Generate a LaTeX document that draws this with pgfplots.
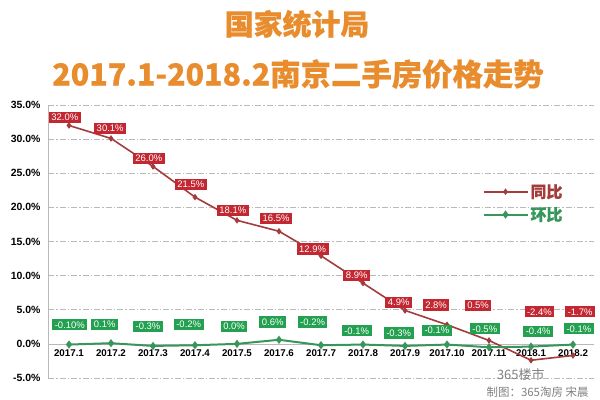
\documentclass[border=0pt]{standalone}
\usepackage{pgfplots}
\pgfplotsset{compat=1.18}
\usepackage{pgfplotstable}
\usepackage{fontspec}
\setmainfont{Liberation Sans}
\newfontfamily\cjk{Noto Sans CJK SC}[BoldFeatures={FakeBold=0.6}]
\definecolor{tbline}{RGB}{165,60,60}
\definecolor{tbfill}{RGB}{195,40,50}
\definecolor{hbline}{RGB}{55,150,90}
\definecolor{hbfill}{RGB}{35,160,80}
\definecolor{ttl}{RGB}{232,140,45}
\definecolor{gridc}{RGB}{185,185,185}
\pgfplotstableread{
x tb hb tbx tby hbx hby tbl hbl
0 32.0 -0.10 -0.10 33.2 0.02 2.8 32.0 -0.10
1 30.1 0.1 -0.02 31.6 -0.15 2.9 30.1 0.1
2 26.0 -0.3 -0.10 27.2 -0.12 2.6 26.0 -0.3
3 21.5 -0.2 -0.10 23.4 -0.15 2.9 21.5 -0.2
4 18.1 0.0 -0.10 19.6 -0.07 2.6 18.1 0.0
5 16.5 0.6 -0.07 18.4 -0.15 3.2 16.5 0.6
6 12.9 -0.2 -0.20 13.9 -0.20 3.2 12.9 -0.2
7 8.9 -0.1 -0.15 10.0 -0.15 1.9 8.9 -0.1
8 4.9 -0.3 -0.15 6.1 -0.15 1.6 4.9 -0.3
9 2.8 -0.1 -0.26 5.7 -0.24 2.0 2.8 -0.1
10 0.5 -0.5 -0.26 5.6 -0.10 2.2 0.5 -0.5
11 -2.4 -0.4 0.20 4.7 0.17 1.8 -2.4 -0.4
12 -1.7 -0.1 0.17 4.7 0.14 2.2 -1.7 -0.1
}\data
\begin{document}
\begin{tikzpicture}
\path[use as bounding box] (0,0) rectangle (600bp,400bp);
\node[font=\cjk\bfseries\fontsize{29}{32}\selectfont, text=ttl] at (297bp,376bp) {国家统计局};
\node[font=\cjk\bfseries\fontsize{30.5}{34}\selectfont, text=ttl] at (298bp,326bp) {2017.1-2018.2南京二手房价格走势};
\begin{axis}[
  at={(48bp,22bp)}, anchor=south west,
  scale only axis, width=546bp, height=273bp,
  xmin=-0.5, xmax=12.5, ymin=-5, ymax=35,
  axis x line=middle, axis y line=left,
  axis line style={gridc, -},
  x axis line style={gridc},
  ytick={-5,0,...,35},
  xtick={0,...,12},
  xticklabels={2017.1,2017.2,2017.3,2017.4,2017.5,2017.6,2017.7,2017.8,2017.9,2017.10,2017.11,2018.1,2018.2},
  major tick length=0pt,
  /pgf/number format/assume math mode=true,
  yticklabel={\pgfmathprintnumber[fixed,fixed zerofill,precision=1]{\tick}\%},
  yticklabel style={font=\bfseries\fontsize{10.5}{11}\selectfont, xshift=-4bp},
  xticklabel style={font=\bfseries\fontsize{9.8}{11}\selectfont, yshift=-2bp},
  ymajorgrids, grid style={gridc, dash pattern=on 6bp off 2bp on 1.5bp off 2bp, line width=0.6bp},
  clip=false,
  legend style={at={(0.79,0.725)}, anchor=north west, draw=none, fill=none,
    font=\cjk\bfseries\fontsize{16}{18}\selectfont, row sep=4bp},
  legend cell align=left,
  legend image code/.code={\draw[mark repeat=2,mark phase=2,#1] plot coordinates {(0bp,0bp) (22bp,0bp) (44bp,0bp)};},
]
\addplot[tbline, line width=1.6bp, mark=diamond*, mark size=2bp] table[x=x,y=tb] {\data};
\addlegendentry{\textcolor{tbline}{同比}}
\addplot[hbline, line width=2bp, mark=diamond*, mark size=2.5bp] table[x=x,y=hb] {\data};
\addlegendentry{\textcolor{hbline}{环比}}
\addplot[only marks, mark=*, mark size=0pt, mark options={draw=none,fill=none},
  point meta=explicit symbolic, nodes near coords={\pgfplotspointmeta\%},
  every node near coord/.append style={anchor=center, fill=tbfill, text=white, inner xsep=2.5bp, inner ysep=2.2bp,
  font=\fontsize{9.5}{10}\selectfont}, forget plot]
  table[x expr=\thisrow{x}+\thisrow{tbx},y=tby,meta=tbl] {\data};
\addplot[only marks, mark=*, mark size=0pt, mark options={draw=none,fill=none},
  point meta=explicit symbolic, nodes near coords={\pgfplotspointmeta\%},
  every node near coord/.append style={anchor=center, fill=hbfill, text=white, inner xsep=2.5bp, inner ysep=2.2bp,
  font=\fontsize{9.5}{10}\selectfont}, forget plot]
  table[x expr=\thisrow{x}+\thisrow{hbx},y=hby,meta=hbl] {\data};
\end{axis}
\node[font=\cjk\fontsize{13}{15}\selectfont, text=gray, anchor=east] at (548bp,25bp) {365楼市};
\node[font=\cjk\fontsize{11.5}{13}\selectfont, text=gray, anchor=east] at (592bp,8bp) {制图：365淘房 宋晨};
\end{tikzpicture}
\end{document}
